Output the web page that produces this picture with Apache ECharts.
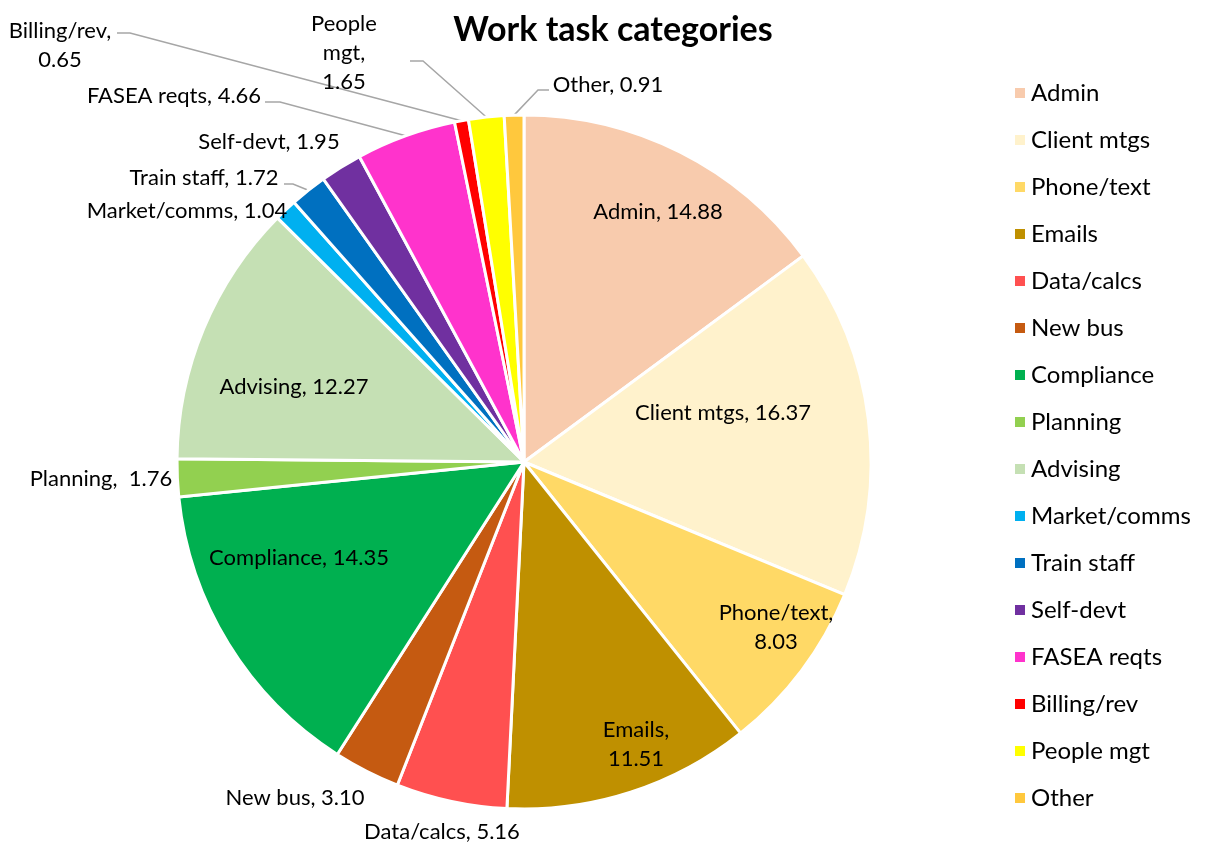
<!DOCTYPE html>
<html>
<head>
<meta charset="utf-8">
<script src="https://cdn.jsdelivr.net/npm/echarts@6/dist/echarts.min.js"></script>
<style>
  html, body { margin: 0; padding: 0; background: #fff; }
  #chart { width: 1209px; height: 844px; }
</style>
</head>
<body>
<div id="chart"></div>
<script>
// categories + values (hours %), clockwise from 12 o'clock
var categories = ['Admin', 'Client mtgs', 'Phone/text', 'Emails', 'Data/calcs', 'New bus',
  'Compliance', 'Planning', 'Advising', 'Market/comms', 'Train staff', 'Self-devt',
  'FASEA reqts', 'Billing/rev', 'People mgt', 'Other'];
var values = [14.88, 16.37, 8.03, 11.51, 5.16, 3.10, 14.35, 1.76, 12.27, 1.04, 1.72, 1.95,
  4.66, 0.65, 1.65, 0.91];
var colors = ['#F8CBAD', '#FFF2CC', '#FFD966', '#BF9000', '#FF5050', '#C55A11', '#00B050',
  '#92D050', '#C5E0B4', '#00B0F0', '#0070C0', '#7030A0', '#FF33CC', '#FF0000', '#FFFF00', '#FFC83D'];

var FONT = 'Lato';

// label text layout (line breaks like the original)
var labelFmt = {
  'Phone/text': '{b},\n{c}',
  'Emails': '{b},\n{c}',
  'Planning': '{b},  {c}',
  'Billing/rev': '{b},\n{c}',
  'People mgt': 'People\nmgt,\n{c}'
};

// where each label sits (centre of the text block) + leader line bends
var labelPos = {
  'Admin': { x: 658, y: 212 },
  'Client mtgs': { x: 723, y: 413 },
  'Phone/text': { x: 776, y: 627 },
  'Emails': { x: 636, y: 744 },
  'Data/calcs': { x: 442, y: 832 },
  'New bus': { x: 295, y: 798 },
  'Compliance': { x: 299, y: 558 },
  'Planning': { x: 101, y: 479 },
  'Advising': { x: 294, y: 387 },
  'Market/comms': { x: 187, y: 211 },
  'Train staff': { x: 204, y: 178, line: [[293, 184], [284, 184]] },
  'Self-devt': { x: 269, y: 142 },
  'FASEA reqts': { x: 174, y: 96, line: [[280, 102], [265, 102]] },
  'Billing/rev': { x: 60, y: 45, line: [[130, 33], [117, 33]] },
  'People mgt': { x: 344, y: 53, line: [[423, 61], [410, 61]] },
  'Other': { x: 608, y: 85, line: [[538, 90], [549, 90]] }
};

var chart = echarts.init(document.getElementById('chart'));

var seriesData = categories.map(function (name, i) {
  var pos = labelPos[name];
  return {
    name: name,
    value: values[i],
    itemStyle: { color: colors[i] },
    labelLine: { show: !!pos.line }
  };
});

var option = {
  animation: false,
  title: {
    text: 'Work task categories',
    left: 608,
    top: 8,
    textAlign: 'center',
    textStyle: { fontFamily: FONT, fontSize: 34, fontWeight: 'bold', color: '#000' }
  },
  legend: {
    orient: 'vertical',
    left: 1008,
    top: 76,
    icon: 'rect',
    itemWidth: 12,
    itemHeight: 12,
    itemGap: 23,
    data: categories,
    textStyle: { fontFamily: FONT, fontSize: 24, lineHeight: 24, color: '#000' }
  },
  series: [{
    type: 'pie',
    center: [524, 462],
    radius: 347,
    startAngle: 90,
    clockwise: true,
    avoidLabelOverlap: false,
    data: seriesData,
    itemStyle: { borderColor: '#fff', borderWidth: 3 },
    label: {
      show: true,
      position: 'outside',
      fontFamily: FONT,
      fontSize: 22,
      lineHeight: 29,
      color: '#000',
      align: 'center',
      formatter: function (p) {
        var f = labelFmt[p.name] || '{b}, {c}';
        return f.replace('{b}', p.name).replace('{c}', p.value.toFixed(2));
      }
    },
    labelLine: {
      show: true,
      length: 10,
      length2: 10,
      lineStyle: { color: '#A6A6A6', width: 1.5 }
    },
    emphasis: { disabled: true }
  }]
};

option.series[0].labelLayout = function (params) {
  var name = categories[params.dataIndex];
  var pos = labelPos[name];
  var out = { x: pos.x, y: pos.y, align: 'center', verticalAlign: 'middle' };
  if (pos.line && params.labelLinePoints) {
    out.labelLinePoints = [params.labelLinePoints[0], pos.line[0], pos.line[1]];
  }
  return out;
};

chart.setOption(option);
</script>
</body>
</html>
